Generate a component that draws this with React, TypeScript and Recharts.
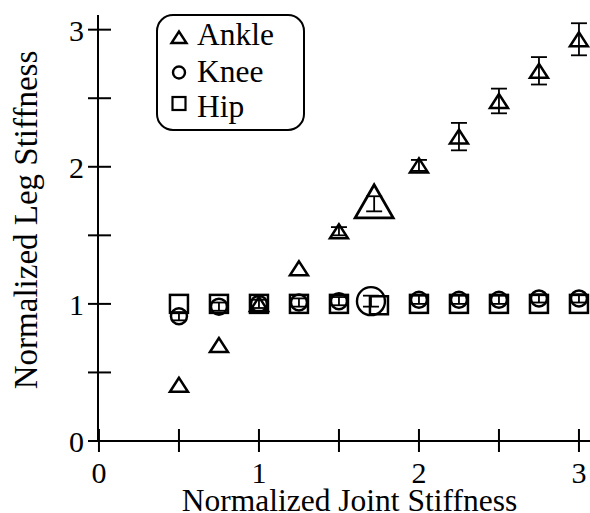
import React from 'react';
import { ScatterChart, Scatter, XAxis, YAxis, ErrorBar, Customized } from 'recharts';

const FONT = '"Liberation Serif", "Times New Roman", serif';

const xTicks = [0, 0.5, 1, 1.5, 2, 2.5, 3];
const yTicks = [0, 0.5, 1, 1.5, 2, 2.5, 3];
const majorLabels = ['0', '1', '2', '3'];

const ankleX = [0.5, 0.75, 1, 1.25, 1.5, 2, 2.25, 2.5, 2.75, 3];
const ankleY = [0.41, 0.7, 1.0, 1.26, 1.53, 2.01, 2.22, 2.48, 2.7, 2.93];
const ankleErr = [0, 0, 0, 0, 0.03, 0.04, 0.1, 0.09, 0.1, 0.117];

const kneeX = [0.5, 0.75, 1, 1.25, 1.5, 2, 2.25, 2.5, 2.75, 3];
const kneeY = [0.91, 0.98, 1.0, 1.01, 1.02, 1.03, 1.03, 1.03, 1.04, 1.04];
const kneeErr = [0.03, 0.03, 0.03, 0.03, 0.03, 0.03, 0.03, 0.03, 0.03, 0.03];

const hipX = [0.5, 0.75, 1, 1.25, 1.5, 1.75, 2, 2.25, 2.5, 2.75, 3];
const hipY = [1.0, 1.0, 1.0, 1.0, 1.0, 0.99, 1.0, 1.0, 1.0, 1.0, 1.0];
const hipErr = [0, 0, 0, 0, 0, 0, 0, 0, 0, 0, 0];

const ankleNaturalX = [1.72];
const ankleNaturalY = [1.73];
const ankleNaturalErr = [0.055];

const kneeNaturalX = [1.7];
const kneeNaturalY = [1.02];
const kneeNaturalErr = [0.04];

const legendNames = ['Ankle', 'Knee', 'Hip'];
const xLabel = 'Normalized Joint Stiffness';
const yLabel = 'Normalized Leg Stiffness';

const build = (xs: number[], ys: number[], es: number[]) =>
  xs.map((x, i) => ({ x, y: ys[i], err: es[i] }));

const ankleData = build(ankleX, ankleY, ankleErr);
const kneeData = build(kneeX, kneeY, kneeErr);
const hipData = build(hipX, hipY, hipErr);
const ankleNatData = build(ankleNaturalX, ankleNaturalY, ankleNaturalErr);
const kneeNatData = build(kneeNaturalX, kneeNaturalY, kneeNaturalErr);

const SW = 2.5;

const Tri = (p: any) => {
  const { cx, cy } = p;
  return (
    <polygon
      points={`${cx},${cy - 7} ${cx - 9},${cy + 7} ${cx + 9},${cy + 7}`}
      fill="none" stroke="#000" strokeWidth={SW} strokeLinejoin="miter"
    />
  );
};
const BigTri = (p: any) => {
  const { cx, cy } = p;
  return (
    <polygon
      points={`${cx},${cy - 19} ${cx - 19},${cy + 14} ${cx + 19},${cy + 14}`}
      fill="none" stroke="#000" strokeWidth={2.8}
    />
  );
};
const Circ = (p: any) => <circle cx={p.cx} cy={p.cy} r={8} fill="none" stroke="#000" strokeWidth={SW} />;
const BigCirc = (p: any) => <circle cx={p.cx} cy={p.cy} r={14} fill="none" stroke="#000" strokeWidth={2.4} />;
const Sq = (p: any) => (
  <rect x={p.cx - 9} y={p.cy - 9} width={18} height={18} fill="none" stroke="#000" strokeWidth={SW} />
);

const XTick = (props: any) => {
  const { x, y, payload } = props;
  const v = payload.value;
  const isMajor = Number.isInteger(v);
  return (
    <g>
      <line x1={x} x2={x} y1={y - 12} y2={y + 11} stroke="#000" strokeWidth={2} />
      {isMajor && (
        <text x={x} y={y + 42} textAnchor="middle" fontFamily={FONT} fontSize={30} fill="#000">
          {majorLabels[v]}
        </text>
      )}
    </g>
  );
};

const YTick = (props: any) => {
  const { x, y, payload } = props;
  const v = payload.value;
  const isMajor = Number.isInteger(v);
  return (
    <g>
      <line x1={x - 10} x2={x + 13} y1={y} y2={y} stroke="#000" strokeWidth={2} />
      {isMajor && (
        <text x={x - 14} y={y + 11} textAnchor="end" fontFamily={FONT} fontSize={30} fill="#000">
          {majorLabels[v]}
        </text>
      )}
    </g>
  );
};

const Overlay = () => (
  <g>
    <rect x={149} y={7} width={147} height={115} rx={16} ry={16} fill="none" stroke="#000" strokeWidth={2} />
    <polygon points="171,23.5 163.5,35 178.5,35" fill="none" stroke="#000" strokeWidth={2.4} />
    <circle cx={171} cy={64.5} r={6} fill="none" stroke="#000" strokeWidth={2.4} />
    <rect x={164.5} y={89} width={13} height={13} fill="none" stroke="#000" strokeWidth={2.2} />
    <text x={189} y={37} fontFamily={FONT} fontSize={31.5} fill="#000">{legendNames[0]}</text>
    <text x={189} y={74} fontFamily={FONT} fontSize={31.5} fill="#000">{legendNames[1]}</text>
    <text x={189} y={109} fontFamily={FONT} fontSize={31.5} fill="#000">{legendNames[2]}</text>
    <text x={341.5} y={503} textAnchor="middle" fontFamily={FONT} fontSize={31.5} fill="#000">{xLabel}</text>
    <text x={29} y={212} textAnchor="middle" transform="rotate(-90, 29, 212)" fontFamily={FONT} fontSize={33} fill="#000">{yLabel}</text>
  </g>
);

export default function App() {
  return (
    <div style={{ position: 'absolute', left: 8, top: 8, width: 582, height: 505 }}>
      <ScatterChart width={582} height={505} margin={{ top: 7, right: 0, bottom: 0, left: 0 }}>
        <XAxis
          type="number" dataKey="x" domain={[-0.006, 3.069]} allowDataOverflow ticks={xTicks} interval={0}
          height={72} tickSize={0} tickMargin={0} tickLine={false}
          axisLine={{ stroke: '#000', strokeWidth: 2 }} tick={XTick}
        />
        <YAxis
          type="number" dataKey="y" domain={[0, 3.107]} allowDataOverflow ticks={yTicks} interval={0}
          width={90} tickSize={0} tickMargin={0} tickLine={false}
          axisLine={{ stroke: '#000', strokeWidth: 2 }} tick={YTick}
        />
        <Scatter data={hipData} shape={Sq} isAnimationActive={false}>
          <ErrorBar dataKey="err" direction="y" width={8} stroke="#000" strokeWidth={1.8} />
        </Scatter>
        <Scatter data={kneeData} shape={Circ} isAnimationActive={false}>
          <ErrorBar dataKey="err" direction="y" width={8} stroke="#000" strokeWidth={1.8} />
        </Scatter>
        <Scatter data={ankleData} shape={Tri} isAnimationActive={false}>
          <ErrorBar dataKey="err" direction="y" width={8} stroke="#000" strokeWidth={1.8} />
        </Scatter>
        <Scatter data={ankleNatData} shape={BigTri} isAnimationActive={false}>
          <ErrorBar dataKey="err" direction="y" width={8} stroke="#000" strokeWidth={1.8} />
        </Scatter>
        <Scatter data={kneeNatData} shape={BigCirc} isAnimationActive={false}>
          <ErrorBar dataKey="err" direction="y" width={8} stroke="#000" strokeWidth={1.8} />
        </Scatter>
        <Customized component={Overlay} />
      </ScatterChart>
    </div>
  );
}
